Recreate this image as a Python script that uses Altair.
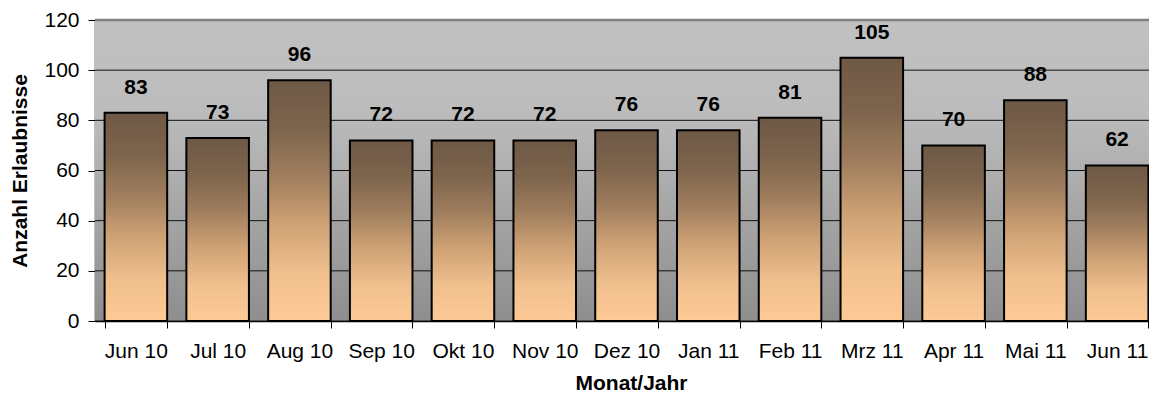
import altair as alt
import pandas as pd

months = ["Jun 10", "Jul 10", "Aug 10", "Sep 10", "Okt 10", "Nov 10", "Dez 10",
          "Jan 11", "Feb 11", "Mrz 11", "Apr 11", "Mai 11", "Jun 11"]
counts = [83, 73, 96, 72, 72, 72, 76, 76, 81, 105, 70, 88, 62]
y_ticks = [0, 20, 40, 60, 80, 100, 120]

df = pd.DataFrame({"monat": months, "anzahl": counts})
grid_df = pd.DataFrame({"anzahl": y_ticks})
bg_df = pd.DataFrame({"k": [0]})

FONT = "Liberation Sans"

bar_fill = alt.LinearGradient(
    gradient="linear", x1=0, x2=0, y1=0, y2=1,
    stops=[
        alt.GradientStop(offset=0.0, color="#6e5946"),
        alt.GradientStop(offset=0.2, color="#7d644c"),
        alt.GradientStop(offset=0.4, color="#a07e5e"),
        alt.GradientStop(offset=0.6, color="#cfa275"),
        alt.GradientStop(offset=0.8, color="#efbf8d"),
        alt.GradientStop(offset=1.0, color="#fdca96"),
    ],
)

bg_fill = alt.LinearGradient(
    gradient="linear", x1=0, x2=0, y1=0, y2=1,
    stops=[
        alt.GradientStop(offset=0.0, color="#c1c1c1"),
        alt.GradientStop(offset=0.3, color="#bcbcbc"),
        alt.GradientStop(offset=1.0, color="#8e8e8e"),
    ],
)

x_enc = alt.X(
    "monat:N", sort=months,
    scale=alt.Scale(paddingInner=0.235, paddingOuter=0.1175, range=[0, 1063]),
    axis=alt.Axis(
        title="Monat/Jahr", tickBand="extent", labelAngle=0,
        labelFont=FONT, labelFontSize=21, labelColor="black", labelPadding=12,
        titleFont=FONT, titleFontSize=21, titleFontWeight="bold", titleColor="black",
        titlePadding=11, tickSize=7, tickColor="black", domainColor="black",
        domainWidth=1.5, grid=False, titleX=536,
    ),
)

y_enc = alt.Y(
    "anzahl:Q",
    scale=alt.Scale(domain=[0, 120], nice=False),
    axis=alt.Axis(
        title="Anzahl Erlaubnisse", values=y_ticks,
        labelFont=FONT, labelFontSize=21, labelColor="black", labelPadding=9,
        titleFont=FONT, titleFontSize=21, titleFontWeight="bold", titleColor="black",
        titlePadding=13, tickSize=7, tickColor="black", domainColor="black",
        domainWidth=1.5, grid=False,
    ),
)

background = alt.Chart(bg_df).mark_rect(fill=bg_fill).encode(
    x=alt.value(0), x2=alt.value("width"), y=alt.value(0), y2=alt.value("height")
)

gridlines = alt.Chart(grid_df).mark_rule().encode(
    y=alt.Y("anzahl:Q"),
    color=alt.condition("datum.anzahl == 120", alt.value("#808080"), alt.value("#111111")),
    strokeWidth=alt.condition("datum.anzahl == 120", alt.value(2.5), alt.value(1)),
)

bars = alt.Chart(df).mark_bar(
    fill=bar_fill, stroke="black", strokeWidth=2
).encode(x=x_enc, y=y_enc)

labels = alt.Chart(df).mark_text(
    dy=-25, baseline="middle", align="center", font=FONT, fontSize=21,
    fontWeight="bold", color="black"
).encode(x=alt.X("monat:N", sort=months), y=alt.Y("anzahl:Q"), text="anzahl:Q")

chart = alt.layer(background, gridlines, bars, labels).properties(
    width=1054, height=301,
    autosize=alt.AutoSizeParams(type="none"),
    padding={"left": 87, "top": 12, "right": 0, "bottom": 74},
    background="white",
).configure_view(stroke="transparent")

chart.save("out.html", embed_options={"renderer": "svg", "actions": False})
